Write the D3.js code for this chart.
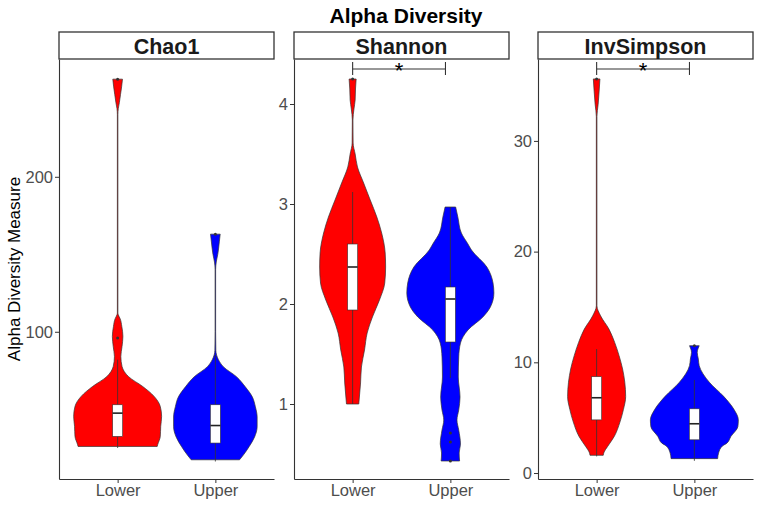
<!DOCTYPE html>
<html>
<head>
<meta charset="utf-8">
<script src="https://cdn.jsdelivr.net/npm/d3@7"></script>
<style>
  html, body { margin: 0; padding: 0; background: #ffffff; }
  svg { display: block; font-family: "Liberation Sans", Arial, Helvetica, sans-serif; }
</style>
</head>
<body>
<script>
// ---------------- DATA ----------------
const chartTitle = "Alpha Diversity";
const yAxisTitle = "Alpha Diversity Measure";
const panelNames = ["Chao1", "Shannon", "InvSimpson"];
const groupNames = ["Lower", "Upper"];
const groupColors = ["#FF0000", "#0000FF"];

// y-axis extents and tick labels per panel
const yDomains = [[5, 276], [0.25, 4.45], [-0.54, 37.4]];
const yTicks = [[100, 200], [1, 2, 3, 4], [0, 10, 20, 30]];

// violin outlines: [value, relative density (0..1)]
const chao1Lower = [[263,0.11],[258,0.09],[253,0.065],[248,0.04],[244,0.015],[240,0.006],[112,0.006],[110,0.03],[108.4,0.057],[103.4,0.095],[97,0.12],[90.5,0.1],[84,0.073],[77.6,0.1],[71,0.25],[64.7,0.57],[58.3,0.83],[51.8,0.97],[45.4,1.0],[39,0.98],[32.5,0.97],[27.1,0.91],[26,0.9]];
const chao1Upper = [[163,0.11],[158,0.09],[150,0.055],[145,0.02],[140,0.006],[100,0.006],[88,0.011],[82,0.07],[77.5,0.18],[71,0.48],[64.5,0.68],[58,0.84],[51.6,0.91],[45,0.95],[38.7,0.95],[32,0.89],[26,0.77],[20.6,0.64],[17.4,0.55]];
const shannonLower = [[4.25,0.08],[4.15,0.065],[4.04,0.057],[3.95,0.03],[3.84,0.007],[3.61,0.011],[3.5,0.057],[3.37,0.11],[3.21,0.25],[3.04,0.4],[2.87,0.55],[2.71,0.66],[2.51,0.74],[2.37,0.75],[2.21,0.73],[2.04,0.61],[1.87,0.45],[1.71,0.33],[1.54,0.27],[1.37,0.2],[1.21,0.18],[1.0,0.14]];
const shannonUpper = [[2.97,0.12],[2.87,0.17],[2.71,0.25],[2.6,0.4],[2.54,0.48],[2.37,0.83],[2.21,0.97],[2.11,0.99],[1.97,0.91],[1.87,0.74],[1.74,0.4],[1.61,0.23],[1.47,0.19],[1.27,0.18],[1.07,0.22],[0.94,0.19],[0.84,0.15],[0.74,0.19],[0.6,0.23],[0.51,0.2],[0.43,0.21]];
const invSimpsonLower = [[35.6,0.075],[34.5,0.057],[33.3,0.034],[32.2,0.007],[15.1,0.007],[14.2,0.09],[13,0.28],[11.8,0.41],[10.6,0.51],[9.4,0.59],[8.2,0.64],[6.9,0.66],[5.75,0.61],[4.6,0.53],[3.3,0.4],[2.4,0.25],[1.9,0.17],[1.6,0.15]];
const invSimpsonUpper = [[11.5,0.11],[11.2,0.08],[10.9,0.065],[10.3,0.09],[9.7,0.11],[8.2,0.34],[6.95,0.66],[5.75,0.9],[4.8,1.0],[4.2,0.99],[3.3,0.83],[2.7,0.74],[2.45,0.64],[1.8,0.55],[1.3,0.53]];

// box stats: [lower whisker, q1, median, q3, upper whisker]
const chao1Box = [[25, 32.5, 47.5, 52.9, 82], [16.3, 28.2, 39.5, 52.9, 85]];
const shannonBox = [[1.0, 1.94, 2.37, 2.6, 3.12], [1.26, 1.62, 2.05, 2.17, 2.97]];
const invSimpsonBox = [[1.5, 4.8, 6.8, 8.7, 11.2], [1.1, 3.0, 4.45, 5.8, 8.4]];

// outliers
const chao1Outliers = [[96, 263], [163]];
const shannonOutliers = [[4.25], [0.71, 0.62, 0.43]];
const invSimpsonOutliers = [[35.6], [11.5]];

// significance brackets: y value, category span, label
const sigY = [null, 4.35, 36.5];
const sigSpan = [1, 1.95];
const sigLabel = "*";

const violins = [[chao1Lower, chao1Upper], [shannonLower, shannonUpper], [invSimpsonLower, invSimpsonUpper]];
const boxes = [chao1Box, shannonBox, invSimpsonBox];
const outliers = [chao1Outliers, shannonOutliers, invSimpsonOutliers];

// ---------------- LAYOUT ----------------
const W = 759, H = 507;
const panelLeft = [59, 294, 538];
const panelW = 215;
const plotTop = 59, plotBottom = 479, stripTop = 32;

const svg = d3.select("body").append("svg").attr("width", W).attr("height", H);

svg.append("text")
  .attr("x", 406).attr("y", 22.5)
  .attr("text-anchor", "middle")
  .attr("font-size", 21).attr("font-weight", "bold").attr("fill", "#000")
  .text(chartTitle);

svg.append("text")
  .attr("transform", `translate(20,${(plotTop + plotBottom) / 2}) rotate(-90)`)
  .attr("text-anchor", "middle")
  .attr("font-size", 17).attr("fill", "#000")
  .text(yAxisTitle);

panelNames.forEach((name, i) => {
  const L = panelLeft[i];
  const x = d3.scaleLinear().domain([0.4, 2.6]).range([L, L + panelW]);
  const y = d3.scaleLinear().domain(yDomains[i]).range([plotBottom, plotTop]);
  const halfW = d3.scaleLinear().domain([0, 1]).range([0, x(1.45) - x(1)]);
  const g = svg.append("g");

  // strip
  g.append("rect")
    .attr("x", L).attr("y", stripTop).attr("width", panelW).attr("height", plotTop - stripTop)
    .attr("fill", "#fff").attr("stroke", "#333").attr("stroke-width", 1.3);
  g.append("text")
    .attr("x", L + panelW / 2).attr("y", 53.5)
    .attr("text-anchor", "middle")
    .attr("font-size", 21.5).attr("font-weight", "bold").attr("fill", "#1a1a1a")
    .text(name);

  // violins
  groupNames.forEach((grp, j) => {
    const cx = x(j + 1);
    const area = d3.area()
      .curve(d3.curveMonotoneY)
      .y(d => y(d[0]))
      .x0(d => cx - halfW(d[1]))
      .x1(d => cx + halfW(d[1]));
    g.append("path")
      .datum(violins[i][j].slice().sort((a, b) => a[0] - b[0]))
      .attr("d", area)
      .attr("fill", groupColors[j])
      .attr("stroke", "#333").attr("stroke-width", 0.7);

    const b = boxes[i][j];
    // whiskers
    g.append("line").attr("x1", cx).attr("x2", cx).attr("y1", y(b[4])).attr("y2", y(b[3]))
      .attr("stroke", "#333").attr("stroke-width", 0.8);
    g.append("line").attr("x1", cx).attr("x2", cx).attr("y1", y(b[1])).attr("y2", y(b[0]))
      .attr("stroke", "#333").attr("stroke-width", 0.8);
    // box
    g.append("rect")
      .attr("x", cx - 5).attr("width", 10)
      .attr("y", y(b[3])).attr("height", y(b[1]) - y(b[3]))
      .attr("fill", "#fff").attr("stroke", "#333").attr("stroke-width", 0.6);
    g.append("line").attr("x1", cx - 5).attr("x2", cx + 5).attr("y1", y(b[2])).attr("y2", y(b[2]))
      .attr("stroke", "#222").attr("stroke-width", 1.6);
    // outliers
    g.selectAll(null).data(outliers[i][j]).enter().append("circle")
      .attr("cx", cx).attr("cy", d => y(d)).attr("r", 1.5)
      .attr("fill", "#333");
  });

  // axes
  const yAxis = d3.axisLeft(y).tickValues(yTicks[i]).tickFormat(d3.format("d"))
    .tickSize(4).tickSizeOuter(0).tickPadding(2);
  const ya = g.append("g").attr("transform", `translate(${L},0)`).call(yAxis);
  const xAxis = d3.axisBottom(x).tickValues([1, 2]).tickFormat(v => groupNames[v - 1])
    .tickSize(4).tickSizeOuter(0).tickPadding(1.5);
  const xa = g.append("g").attr("transform", `translate(0,${plotBottom})`).call(xAxis);
  [ya, xa].forEach(a => {
    a.select(".domain").attr("stroke", "#333").attr("stroke-width", 1.1);
    a.selectAll(".tick line").attr("stroke", "#333").attr("stroke-width", 1);
    a.selectAll(".tick text").attr("fill", "#4d4d4d").attr("font-size", 16.5)
      .attr("font-family", "Liberation Sans, Arial, sans-serif");
  });

  // significance bracket
  if (sigY[i] !== null) {
    const yb = y(sigY[i]);
    const x1 = x(sigSpan[0]), x2 = x(sigSpan[1]);
    g.append("line").attr("x1", x1).attr("x2", x2).attr("y1", yb).attr("y2", yb)
      .attr("stroke", "#333").attr("stroke-width", 1.1);
    [x1, x2].forEach(xx => g.append("line")
      .attr("x1", xx).attr("x2", xx).attr("y1", yb - 7).attr("y2", yb + 6)
      .attr("stroke", "#333").attr("stroke-width", 1.1));
    g.append("text")
      .attr("x", (x1 + x2) / 2).attr("y", yb + 9)
      .attr("text-anchor", "middle")
      .attr("font-size", 22).attr("fill", "#000")
      .text(sigLabel);
  }
});
</script>
</body>
</html>
